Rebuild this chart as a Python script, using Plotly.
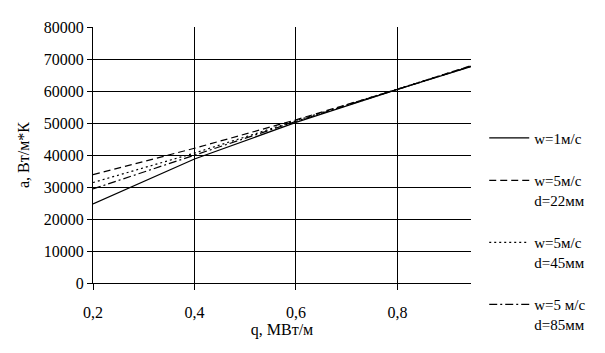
import plotly.graph_objects as go

q = [0.2, 0.4, 0.6, 0.8, 0.945]
w1 = [24700, 38750, 50200, 60500, 67600]
w5_d22 = [33850, 42100, 51000, 60500, 67900]
w5_d45 = [31400, 40600, 50700, 60500, 67800]
w5_d85 = [29400, 39900, 50500, 60500, 67700]

names = ["w=1м/с", "w=5м/с<br>d=22мм", "w=5м/с<br>d=45мм", "w=5 м/с<br>d=85мм"]
dashes = ["solid", "7px,4px", "2px,3px", "8px,3px,2px,3px"]
series = [w1, w5_d22, w5_d45, w5_d85]

x_ticks = [0.2, 0.4, 0.6, 0.8]
x_tick_labels = ["0,2", "0,4", "0,6", "0,8"]
y_ticks = [0, 10000, 20000, 30000, 40000, 50000, 60000, 70000, 80000]
y_tick_labels = [str(v) for v in y_ticks]
y_grid = [10000, 20000, 30000, 40000, 50000, 60000, 70000]

FONT = "Liberation Serif, Times New Roman, serif"

fig = go.Figure()
for i, (nm, ds, ys) in enumerate(zip(names, dashes, series)):
    fig.add_trace(go.Scatter(x=q, y=ys, mode="lines", name=nm, legendgroup=str(i),
                             line=dict(color="black", width=1.2, dash=ds)))

# invisible helper trace on the grid axis
fig.add_trace(go.Scatter(x=[q[0]], y=[0], yaxis="y2", mode="markers",
                         marker=dict(opacity=0), showlegend=False, hoverinfo="skip"))

fig.update_layout(
    width=605, height=353,
    margin=dict(l=93, r=134, t=27, b=70, autoexpand=False),
    paper_bgcolor="white", plot_bgcolor="white",
    font=dict(family=FONT, size=16, color="black"),
    showlegend=True,
    legend=dict(x=1.035, y=0.63, xanchor="left", yanchor="top",
                font=dict(family=FONT, size=15), valign="top",
                tracegroupgap=20, itemwidth=40, bgcolor="rgba(0,0,0,0)"),
    xaxis=dict(range=[0.2, 0.945], tickvals=x_ticks, ticktext=x_tick_labels,
               showgrid=True, gridcolor="black", gridwidth=1,
               showline=True, linecolor="black", linewidth=1,
               ticks="outside", ticklen=6, tickcolor="black", automargin=False,
               zeroline=False, ticklabelstandoff=9,
               title=dict(text="q, МВт/м", standoff=0, font=dict(size=16))),
    yaxis=dict(range=[0, 80000], tickvals=y_ticks, ticktext=y_tick_labels,
               showgrid=False, showline=True, linecolor="black", linewidth=1,
               ticks="outside", ticklen=5, tickcolor="black", zeroline=False,
               automargin=False,
               title=dict(text="а, Вт/м*К", standoff=10, font=dict(size=16))),
    yaxis2=dict(range=[0, 80000], overlaying="y", tickvals=y_grid,
                showgrid=True, gridcolor="black", gridwidth=1, automargin=False,
                showticklabels=False, ticks="", zeroline=False, showline=False),
)

fig.write_html("out.html")
